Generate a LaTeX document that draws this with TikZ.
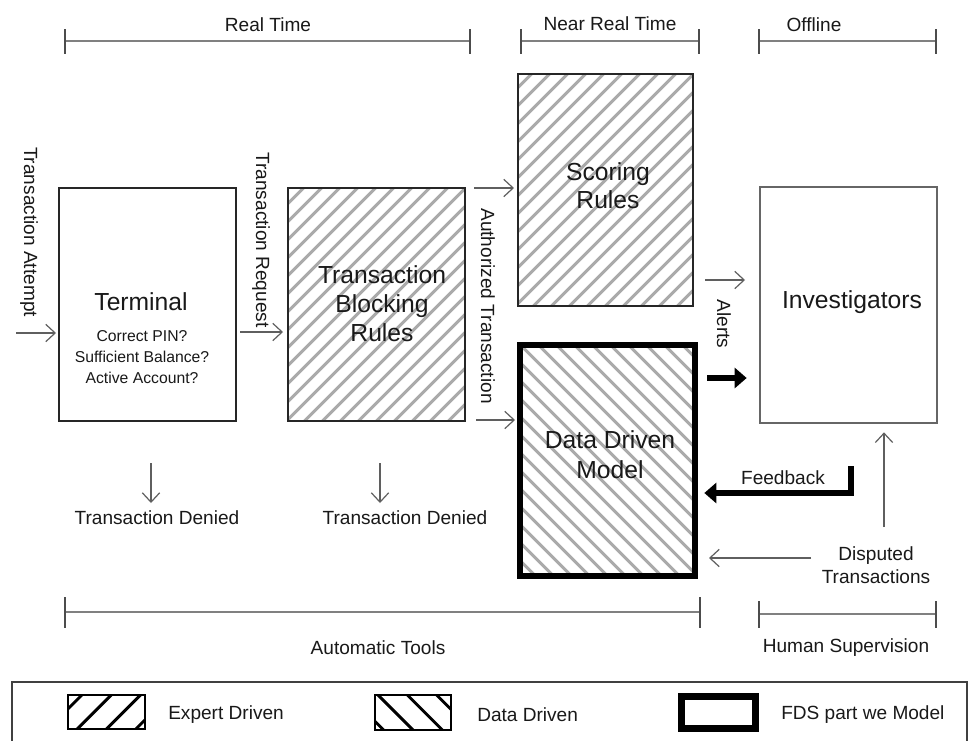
\documentclass[tikz,border=0pt]{standalone}
\usepackage{fontspec}
\setmainfont{Liberation Sans}
\usetikzlibrary{arrows.meta,fit}
\definecolor{lgray}{RGB}{95,95,95}
\definecolor{hgray}{RGB}{170,170,170}
\tikzset{
 big/.style={font=\fontsize{18.5}{22}\selectfont, inner sep=0, text=black!90},
 small/.style={font=\fontsize{14.3}{17}\selectfont, inner sep=0, text=black!90},
 sub/.style={font=\fontsize{11.8}{16}\selectfont, inner sep=0, text=black!90},
 arr/.style={draw=lgray, line width=0.9pt, -{Straight Barb[length=7pt,width=13pt,line width=0.9pt]}},
 thickarr/.style={draw=black, line width=4.5pt, -{Triangle[length=9pt,width=15pt]}},
 area/.style={inner sep=0, outer sep=0},
 frame/.style={draw=black!85, line width=1.2pt},
 hatchline/.style={draw=hgray, line width=2.2pt},
 legline/.style={draw=black, line width=2.2pt},
 brk/.style={draw=black!50, line width=1.8pt},
 tk/.style={draw=black!70, line width=0.8pt},
 hatchE/.style={path picture={
   \foreach \i in {-405,-391.5,...,405}
     \draw[hatchline] ([xshift=\i pt]path picture bounding box.south) -- ++(300pt,300pt);}},
 hatchD/.style={path picture={
   \foreach \i in {-405,-391.5,...,405}
     \draw[hatchline] ([xshift=\i pt]path picture bounding box.south) -- ++(-300pt,300pt);}},
 legE/.style={path picture={
   \foreach \i in {-110,-88,...,110}
     \draw[legline] ([xshift=\i pt]path picture bounding box.south) -- ++(60pt,60pt);}},
 legD/.style={path picture={
   \foreach \i in {-110,-88,...,110}
     \draw[legline] ([xshift=\i pt]path picture bounding box.south) -- ++(-60pt,60pt);}},
}
\begin{document}
\begin{tikzpicture}[x=0.75pt,y=-0.75pt]
\useasboundingbox (0,0) rectangle (971,740);
\fill[white] (0,0) rectangle (971,740);

% ---- time brackets (top)
\draw[brk] (65,41) -- (470,41);
\draw[tk] (65,29) -- (65,54); \draw[tk] (470,29) -- (470,54);
\node[small] (lrt) at (268,25) {Real Time};
\draw[brk] (521,41) -- (699,41);
\draw[tk] (521,29) -- (521,54); \draw[tk] (699,29) -- (699,54);
\node[small] (lnrt) at (610,24) {Near Real Time};
\draw[brk] (759,41) -- (936,41);
\draw[tk] (759,29) -- (759,54); \draw[tk] (936,29) -- (936,54);
\node[small] (loff) at (814,25) {Offline};

% ---- boxes
\node[area, frame, fit={(59,188) (236,421)}] (term) {};
\node[area, hatchE, fit={(288,188) (465,421)}] (block) {};
\draw[frame] (block.south west) rectangle (block.north east);
\node[area, hatchE, fit={(518,74) (693,306)}] (score) {};
\draw[frame] (score.south west) rectangle (score.north east);
\node[area, hatchD, fit={(520,345) (695,576)}] (ddm) {};
\draw[draw=black, line width=4pt] (ddm.south west) rectangle (ddm.north east);
\node[area, draw=black!60, line width=1.2pt, fit={(760,187) (937,423)}] (inv) {};

% ---- box texts
\node[big] (tterm) at (141,302) {Terminal};
\node[sub, align=center] (tchecks) at (142,357) {Correct PIN?\\Sufficient Balance?\\Active Account?};
\node[big, align=center, font=\fontsize{18.5}{21.8}\selectfont] (tblock) at (382,304) {Transaction\\Blocking\\Rules};
\node[big, align=center, font=\fontsize{18.5}{21}\selectfont] (tscore) at (608,186) {Scoring\\Rules};
\node[big, align=center, font=\fontsize{18.5}{22.5}\selectfont] (tddm) at (610,455) {Data Driven\\Model};
\node[big] (tinv) at (852,302) {Investigators};

% ---- labels
\node[small, rotate=-90] (tattempt) at (29,232) {Transaction Attempt};
\node[small, rotate=-90] (trequest) at (261,240) {Transaction Request};
\node[small, rotate=-90] (tauth) at (488,306) {Authorized Transaction};
\node[small, rotate=-90] (talerts) at (724,324) {Alerts};
\node[small] (tden1) at (157,518) {Transaction Denied};
\node[small] (tden2) at (405,518) {Transaction Denied};
\node[small] (tfeed) at (783,478) {Feedback};
\node[small, align=center, font=\fontsize{14.3}{17.3}\selectfont] (tdisp) at (876,565) {Disputed\\Transactions};

% ---- connectors
\coordinate (a1s) at (16,333); \coordinate (a1e) at (56,333);
\draw[arr] (a1s) -- (a1e);
\coordinate (a2s) at (240,332); \coordinate (a2e) at (283,332);
\draw[arr] (a2s) -- (a2e);
\coordinate (a3s) at (474,188); \coordinate (a3e) at (514,188);
\draw[arr] (a3s) -- (a3e);
\coordinate (a4s) at (476,420); \coordinate (a4e) at (515,420);
\draw[arr, line width=1.4pt] (a4s) -- (a4e);
\coordinate (a5s) at (705,280); \coordinate (a5e) at (745,280);
\draw[arr] (a5s) -- (a5e);
\coordinate (a6s) at (707,378);
\draw[thickarr] (a6s) -- ([xshift=-10pt]inv.west |- a6s);
\coordinate (fbs) at (851,466); \coordinate (fbc) at (851,493);
\draw[thickarr] (fbs) -- (fbc) -- ([xshift=7pt]ddm.east |- fbc);
\coordinate (dps) at (811,558); \coordinate (dpe) at (709,558);
\draw[arr] (dps) -- (dpe);
\coordinate (ups) at (884,527);
\draw[arr] (ups) -- ([yshift=-7pt]ups |- inv.south);
\coordinate (d1s) at (151,463); \coordinate (d1e) at (151,503);
\draw[arr] (d1s) -- (d1e);
\coordinate (d2s) at (380,463); \coordinate (d2e) at (380,503);
\draw[arr] (d2s) -- (d2e);

% ---- bottom brackets
\draw[brk] (65,612) -- (700,612);
\draw[tk] (65,597) -- (65,628); \draw[tk] (700,597) -- (700,628);
\node[small] (lauto) at (378,648) {Automatic Tools};
\draw[brk] (759,614) -- (936,614);
\draw[tk] (759,601) -- (759,628); \draw[tk] (936,601) -- (936,628);
\node[small] (lhum) at (846,648) {Human Supervision};

% ---- legend
\draw[draw=black!75, line width=1.2pt] (12,742) -- (12,682) -- (967,682) -- (967,742);
\node[area, legE, fit={(68,695) (145,729)}] (lgE) {};
\draw[draw=black, line width=1.2pt] (lgE.south west) rectangle (lgE.north east);
\node[small, anchor=west] (lgEt) at (168,715) {Expert Driven};
\node[area, legD, fit={(375,695) (451,730)}] (lgD) {};
\draw[draw=black, line width=1.2pt] (lgD.south west) rectangle (lgD.north east);
\node[small, anchor=west] (lgDt) at (477,715) {Data Driven};
\node[area, draw=black, line width=5pt, fit={(681.5,696.5) (755.5,728.5)}] (lgF) {};
\node[small, anchor=west] (lgFt) at (781,715) {FDS part we Model};
\end{tikzpicture}
\end{document}
